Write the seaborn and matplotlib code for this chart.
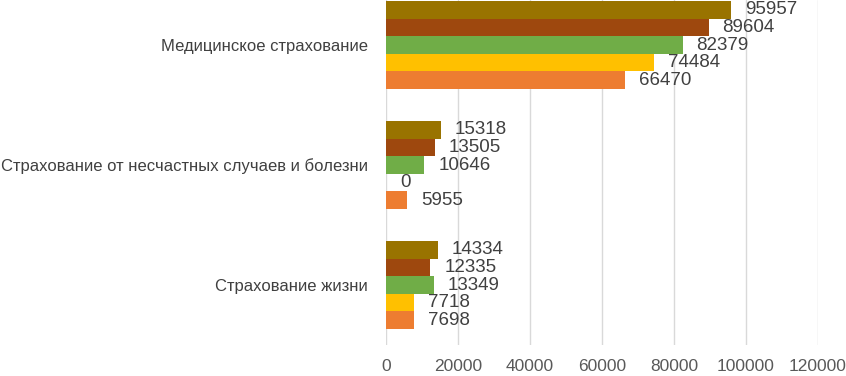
import matplotlib
matplotlib.use("Agg")
import matplotlib.pyplot as plt
import seaborn as sns
import pandas as pd

categories = ["Медицинское страхование",
              "Страхование от несчастных случаев и болезни",
              "Страхование жизни"]
series = ["Ряд5", "Ряд4", "Ряд3", "Ряд2", "Ряд1"]  # top to bottom inside a group
values = {
    "Ряд1": [66470, 5955, 7698],
    "Ряд2": [74484, 0, 7718],
    "Ряд3": [82379, 10646, 13349],
    "Ряд4": [89604, 13505, 12335],
    "Ряд5": [95957, 15318, 14334],
}
colors = {"Ряд1": "#ED7D31", "Ряд2": "#FFC000", "Ряд3": "#70AD47",
          "Ряд4": "#9E480E", "Ряд5": "#997300"}
xticks = [0, 20000, 40000, 60000, 80000, 100000, 120000]

rows = []
for s in series:
    for c, v in zip(categories, values[s]):
        rows.append({"Категория": c, "Ряд": s, "Значение": v})
df = pd.DataFrame(rows)

sns.set_style("white")
plt.rcParams["font.family"] = ["Liberation Sans", "DejaVu Sans"]

fig = plt.figure(figsize=(8.46, 3.76), dpi=100)
ax = fig.add_axes([386 / 846, 31 / 376, 432 / 846, 345 / 376])

sns.barplot(data=df, y="Категория", x="Значение", hue="Ряд", order=categories,
            hue_order=series, palette=colors, orient="h", width=0.733,
            saturation=1, linewidth=0, legend=False, ax=ax, zorder=2)

for cont in ax.containers:
    ax.bar_label(cont, padding=10, fontsize=13.5, color="#404040")

ax.set_xlim(0, 120000)
ax.set_ylim(2.5, -0.375)
ax.set_xticks(xticks)
ax.set_xticklabels([str(t) for t in xticks])
ax.xaxis.grid(True, color="#D9D9D9", linewidth=1, zorder=0)
ax.set_axisbelow(True)
for sp in ax.spines.values():
    sp.set_visible(False)
ax.tick_params(axis="x", length=0, pad=10, labelsize=12.5, labelcolor="#595959")
ax.tick_params(axis="y", length=0, pad=13, labelsize=12, labelcolor="#404040")
ax.set_xlabel("")
ax.set_ylabel("")

fig.savefig("out.png", dpi=100)
